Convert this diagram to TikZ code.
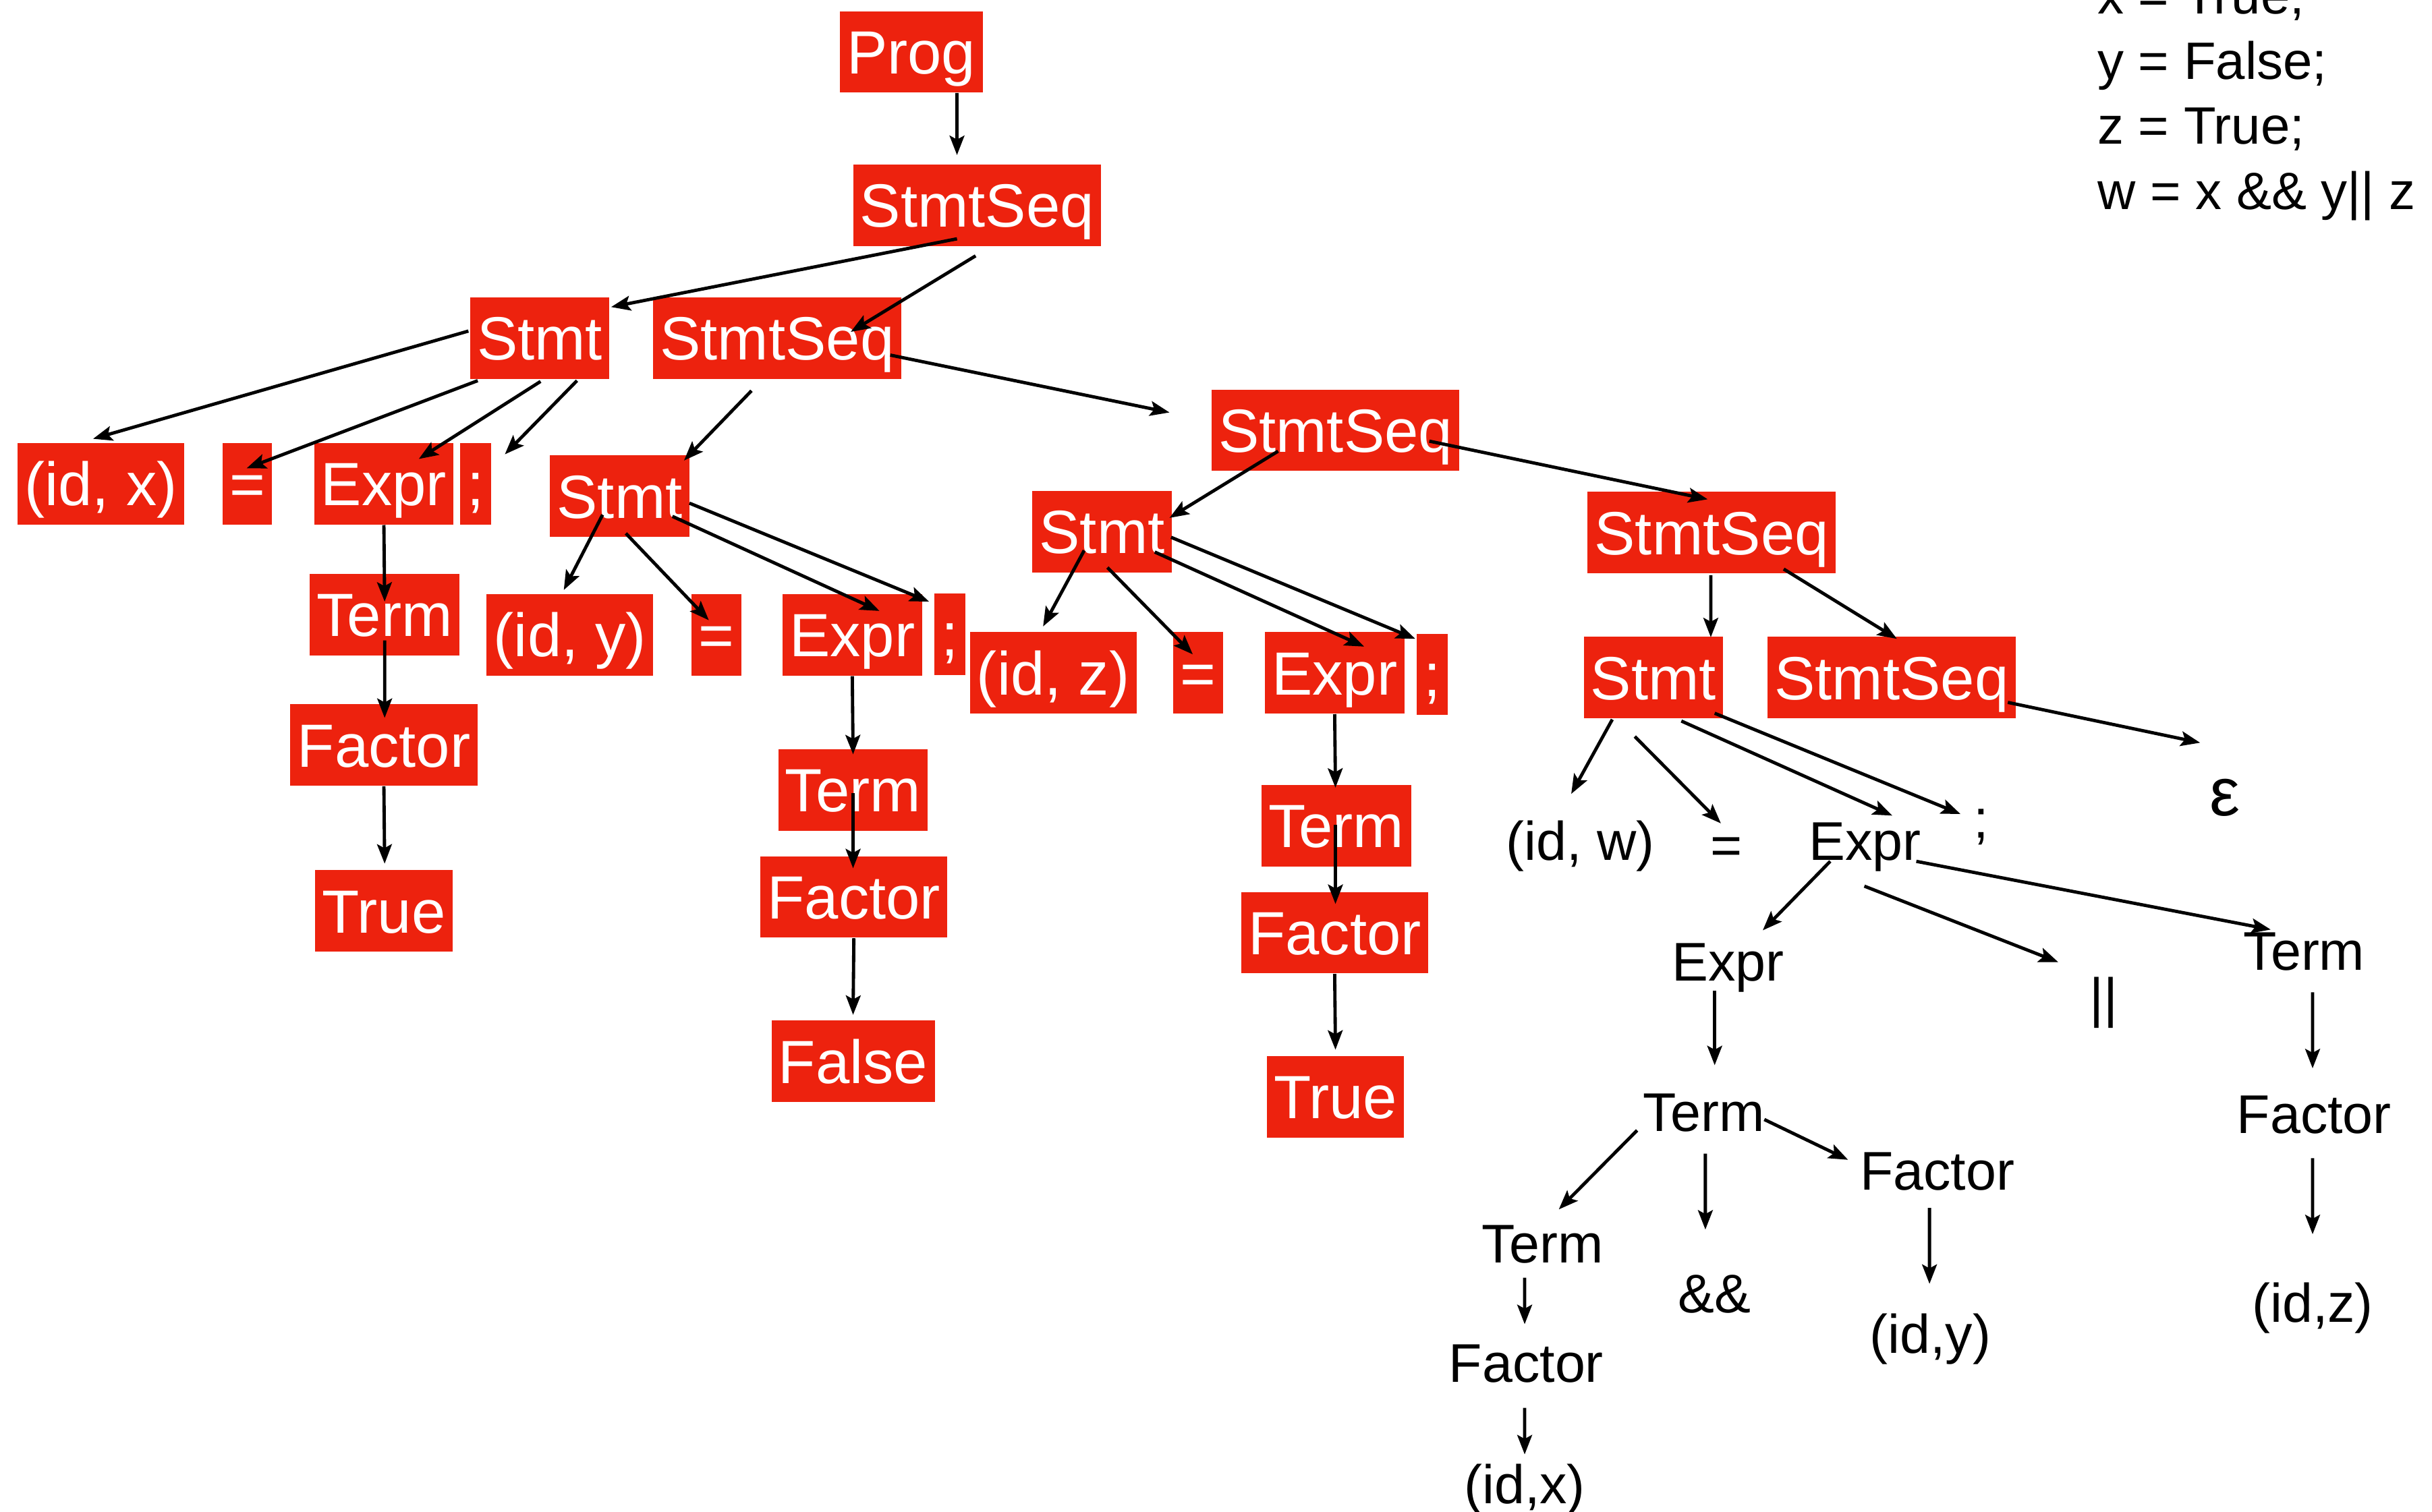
\documentclass[tikz,border=0pt]{standalone}
\usepackage{fontspec}
\setmainfont{Liberation Sans}
\usetikzlibrary{positioning,arrows.meta}
\definecolor{boxred}{RGB}{237,34,14}
\tikzset{
  tok/.style={fill=boxred,text=white,font=\fontsize{22.4}{27}\selectfont,inner xsep=0.09cm,inner ysep=0pt,minimum height=1.05cm,text height=21pt,text depth=5pt},
  lab/.style={font=\fontsize{20}{24}\selectfont,inner sep=0pt,text height=19.3pt,text depth=5pt},
  src/.style={font=\fontsize{19.3}{23}\selectfont,inner sep=0pt,anchor=base west},
  arr/.style={-{Stealth[length=0.25cm,width=0.19cm,inset=0.05cm]},line width=1.2pt}
}
\begin{document}
\begin{tikzpicture}
  \useasboundingbox (0,0) rectangle (31.36,-19.5);
  \node (Prog) [tok] at (11.75,-0.67) {Prog};
  \node (SSa) [tok] at (12.60,-2.65) {StmtSeq};
  \node (StA) [tok] at (6.96,-4.36) {Stmt};
  \node (SSb) [tok] at (10.02,-4.36) {StmtSeq};
  \node (IdX) [tok] at (1.30,-6.24) {(id, x)};
  \node (EqA) [tok] at (3.19,-6.24) {=};
  \node (ExA) [tok] at (4.95,-6.24) {Expr};
  \node (ScA) [tok] at (6.13,-6.24) {;};
  \node (TmA) [tok] at (4.96,-7.93) {Term};
  \node (FcA) [tok] at (4.95,-9.61) {Factor};
  \node (TrA) [tok] at (4.95,-11.75) {True};
  \node (StB) [tok] at (7.99,-6.40) {Stmt};
  \node (IdY) [tok] at (7.35,-8.19) {(id, y)};
  \node (EqB) [tok] at (9.24,-8.19) {=};
  \node (ExB) [tok] at (10.99,-8.19) {Expr};
  \node (ScB) [tok] at (12.25,-8.18) {;};
  \node (TmB) [tok] at (11.00,-10.19) {Term};
  \node (FcB) [tok] at (11.01,-11.57) {Factor};
  \node (FlB) [tok] at (11.00,-13.69) {False};
  \node (SSc) [tok] at (17.22,-5.55) {StmtSeq};
  \node (StC) [tok] at (14.21,-6.86) {Stmt};
  \node (IdZ) [tok] at (13.58,-8.68) {(id, z)};
  \node (EqC) [tok] at (15.45,-8.68) {=};
  \node (ExC) [tok] at (17.21,-8.68) {Expr};
  \node (ScC) [tok] at (18.47,-8.70) {;};
  \node (TmC) [tok] at (17.23,-10.65) {Term};
  \node (FcC) [tok] at (17.21,-12.03) {Factor};
  \node (TrC) [tok] at (17.22,-14.15) {True};
  \node (SSd) [tok] at (22.07,-6.87) {StmtSeq};
  \node (StD) [tok] at (21.32,-8.74) {Stmt};
  \node (SSe) [tok] at (24.39,-8.74) {StmtSeq};
  \node (IdW) [lab] at (20.38,-10.84) {(id, w)};
  \node (EqD) [lab] at (22.26,-10.90) {=};
  \node (ExD) [lab] at (24.05,-10.84) {Expr};
  \node (ScD) [lab] at (25.55,-10.56) {;};
  \node (Eps) [inner sep=0pt,anchor=base,font=\fontsize{25}{30}\selectfont] at (28.69,-10.52) {ε};
  \node (ExE) [lab] at (22.28,-12.40) {Expr};
  \node (Bars) [lab] at (27.13,-12.86) {||};
  \node (TmR) [lab] at (29.71,-12.26) {Term};
  \node (TmM) [lab] at (21.97,-14.34) {Term};
  \node (FcM) [lab] at (24.98,-15.10) {Factor};
  \node (FcR) [lab] at (29.84,-14.37) {Factor};
  \node (TmL) [lab] at (19.89,-16.04) {Term};
  \node (AmpM) [lab] at (22.11,-16.68) {\&\&};
  \node (IdYp) [lab] at (24.89,-17.20) {(id,y)};
  \node (IdZp) [lab] at (29.82,-16.80) {(id,z)};
  \node (FcL) [lab] at (19.68,-17.58) {Factor};
  \node (IdXp) [lab] at (19.66,-19.14) {(id,x)};
  \node (L1) [src] at (27.04,-0.18) {x = True;};
  \node (L2) [src] at (27.04,-1.02) {y = False;};
  \node (L3) [src] at (27.04,-1.86) {z = True;};
  \node (L4) [src] at (27.04,-2.70) {w = x \&\& y|| z};
  \draw[arr] ([shift={(0.59,-0.53)}]Prog.center) -- ([shift={(-0.26,0.65)}]SSa.center);
  \draw[arr] ([shift={(-0.26,-0.43)}]SSa.center) -- ([shift={(0.92,0.40)}]StA.center);
  \draw[arr] ([shift={(-0.02,-0.65)}]SSa.center) -- ([shift={(0.95,0.08)}]SSb.center);
  \draw[arr] ([shift={(-0.92,0.09)}]StA.center) -- ([shift={(-0.10,0.58)}]IdX.center);
  \draw[arr] ([shift={(-0.80,-0.55)}]StA.center) -- ([shift={(-0.01,0.20)}]EqA.center);
  \draw[arr] ([shift={(0.01,-0.56)}]StA.center) -- ([shift={(0.45,0.32)}]ExA.center);
  \draw[arr] ([shift={(0.48,-0.55)}]StA.center) -- ([shift={(0.38,0.38)}]ScA.center);
  \draw[arr] ([shift={(1.46,-0.22)}]SSb.center) -- ([shift={(-2.14,0.23)}]SSc.center);
  \draw[arr] ([shift={(-0.33,-0.68)}]SSb.center) -- ([shift={(0.83,0.46)}]StB.center);
  \draw[arr] (ExA.south) -- ([shift={(0,0.17)}]TmA.center);
  \draw[arr] ([shift={(0,-0.33)}]TmA.center) -- ([shift={(0.01,0.35)}]FcA.center);
  \draw[arr] (FcA.south) -- ([shift={(0.01,0.61)}]TrA.center);
  \draw[arr] ([shift={(-0.22,-0.24)}]StB.center) -- ([shift={(-0.08,0.58)}]IdY.center);
  \draw[arr] ([shift={(0.08,-0.48)}]StB.center) -- ([shift={(-0.10,0.19)}]EqB.center);
  \draw[arr] ([shift={(0.68,-0.26)}]StB.center) -- ([shift={(0.35,0.31)}]ExB.center);
  \draw[arr] ([shift={(0.90,-0.09)}]StB.center) -- ([shift={(-0.27,0.42)}]ScB.center);
  \draw[arr] (ExB.south) -- ([shift={(0,0.46)}]TmB.center);
  \draw[arr] ([shift={(0,-0.04)}]TmB.center) -- ([shift={(-0.01,0.37)}]FcB.center);
  \draw[arr] (FcB.south) -- ([shift={(0,0.60)}]FlB.center);
  \draw[arr] ([shift={(-0.74,-0.27)}]SSc.center) -- ([shift={(0.87,0.18)}]StC.center);
  \draw[arr] ([shift={(1.21,-0.14)}]SSc.center) -- ([shift={(-0.05,0.43)}]SSd.center);
  \draw[arr] ([shift={(-0.23,-0.24)}]StC.center) -- ([shift={(-0.13,0.60)}]IdZ.center);
  \draw[arr] ([shift={(0.07,-0.46)}]StC.center) -- ([shift={(-0.07,0.24)}]EqC.center);
  \draw[arr] ([shift={(0.68,-0.26)}]StC.center) -- ([shift={(0.38,0.34)}]ExC.center);
  \draw[arr] ([shift={(0.89,-0.07)}]StC.center) -- ([shift={(-0.22,0.46)}]ScC.center);
  \draw[arr] (ExC.south) -- ([shift={(-0.01,0.49)}]TmC.center);
  \draw[arr] ([shift={(-0.01,0.01)}]TmC.center) -- ([shift={(0.01,0.37)}]FcC.center);
  \draw[arr] (FcC.south) -- ([shift={(0,0.61)}]TrC.center);
  \draw[arr] ([shift={(-0.01,-0.55)}]SSd.center) -- ([shift={(0.74,0.52)}]StD.center);
  \draw[arr] ([shift={(0.93,-0.47)}]SSd.center) -- ([shift={(0.07,0.50)}]SSe.center);
  \draw[arr] ([shift={(1.50,-0.32)}]SSe.center) -- ([shift={(-0.32,0.94)}]Eps.base);
  \draw[arr] ([shift={(-0.53,-0.54)}]StD.center) -- ([shift={(-0.12,0.60)}]IdW.center);
  \draw[arr] ([shift={(-0.24,-0.76)}]StD.center) -- ([shift={(-0.07,0.28)}]EqD.center);
  \draw[arr] ([shift={(0.36,-0.56)}]StD.center) -- ([shift={(0.35,0.32)}]ExD.center);
  \draw[arr] ([shift={(0.79,-0.46)}]StD.center) -- ([shift={(-0.27,0.06)}]ScD.center);
  \draw[arr] ([shift={(-0.45,-0.27)}]ExD.center) -- ([shift={(0.45,0.40)}]ExE.center);
  \draw[arr] ([shift={(-0.01,-0.59)}]ExD.center) -- ([shift={(-0.59,0.45)}]Bars.center);
  \draw[arr] ([shift={(0.66,-0.27)}]ExD.center) -- ([shift={(-0.43,0.27)}]TmR.center);
  \draw[arr] ([shift={(-0.17,-0.38)}]ExE.center) -- ([shift={(0.14,0.60)}]TmM.center);
  \draw[arr] ([shift={(-0.86,-0.24)}]TmM.center) -- ([shift={(0.21,0.44)}]TmL.center);
  \draw[arr] ([shift={(0.02,-0.54)}]TmM.center) -- ([shift={(-0.12,0.82)}]AmpM.center);
  \draw[arr] ([shift={(0.78,-0.10)}]TmM.center) -- ([shift={(-1.15,0.14)}]FcM.center);
  \draw[arr] ([shift={(0.11,-0.54)}]TmR.center) -- ([shift={(-0.02,0.59)}]FcR.center);
  \draw[arr] ([shift={(-0.02,-0.57)}]FcR.center) -- ([shift={(0,0.88)}]IdZp.center);
  \draw[arr] ([shift={(-0.10,-0.48)}]FcM.center) -- ([shift={(-0.01,0.64)}]IdYp.center);
  \draw[arr] ([shift={(-0.23,-0.44)}]TmL.center) -- ([shift={(-0.02,0.50)}]FcL.center);
  \draw[arr] ([shift={(-0.02,-0.58)}]FcL.center) -- ([shift={(0,0.38)}]IdXp.center);
\end{tikzpicture}
\end{document}
